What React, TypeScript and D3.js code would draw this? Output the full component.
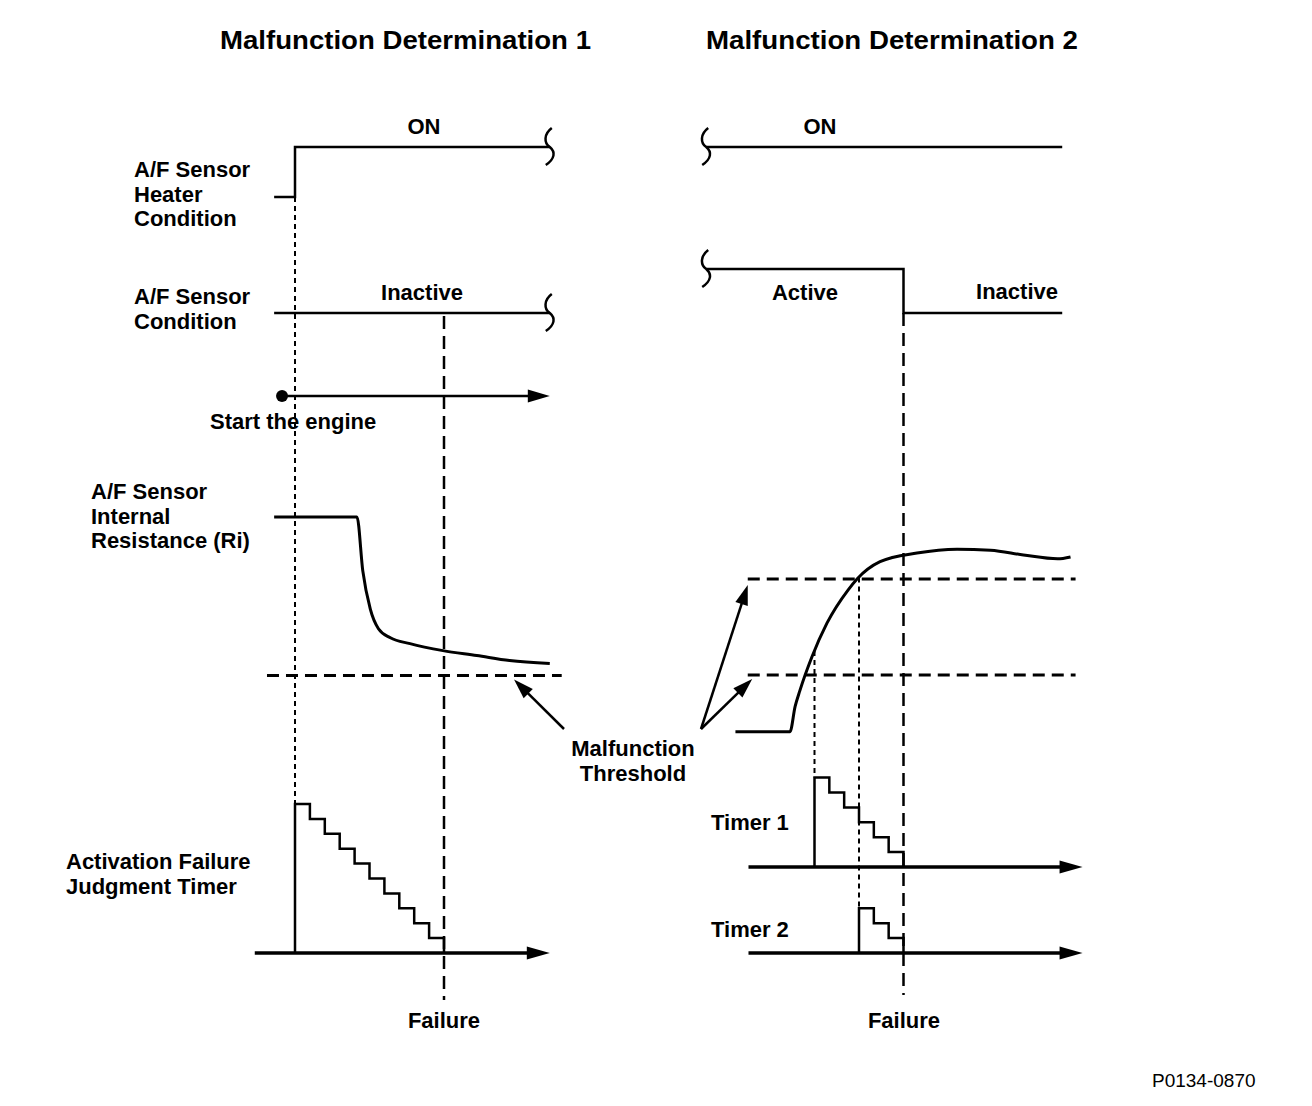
import * as d3 from "d3";

const W = 1312;
const H = 1106;
const FONT = "'Liberation Sans', Arial, Helvetica, sans-serif";

type Pt = [number, number];

const titles = ["Malfunction Determination 1", "Malfunction Determination 2"];

// time axis is counted in timer steps (one stair = one count)
// left panel: 0 = heater switched on, failure judged at count 10
const heaterLeft: Pt[] = [[-1.4, 0], [0, 0], [0, 1], [17.1, 1]];
const sensorLeft: Pt[] = [[-1.4, 0], [17.1, 0]];
const engineStart = -0.87;
const failureLeft = 10;
// A/F sensor internal resistance, arbitrary units (0 = malfunction threshold)
const riLeft: Pt[] = [
  [-1.4, 10], [4.16, 10], [4.55, 6.6], [5.05, 4.2], [5.6, 2.95], [6.4, 2.38],
  [7.72, 2.01], [9.93, 1.57], [12.2, 1.26], [14.4, 0.94], [17.1, 0.75],
];
const thresholdLeft = 0;
const timerLeft = [10, 9, 8, 7, 6, 5, 4, 3, 2, 1];

// right panel: 0 = timer 1 start, failure at count 6
const heaterRight: Pt[] = [[-7.3, 1], [16.7, 1]];
const sensorRight: Pt[] = [[-7.3, 1], [6, 1], [6, 0], [16.7, 0]];
const failureRight = 6;
const riRight: Pt[] = [
  [-5.33, 0.41], [-1.65, 0.41], [-1.31, 0.67], [-0.98, 0.84], [-0.17, 1.19],
  [0.84, 1.54], [2.26, 1.885], [2.87, 2.0], [4.42, 2.18], [6.91, 2.27],
  [9.61, 2.31], [11.87, 2.3], [14.09, 2.25], [16.39, 2.21], [17.26, 2.23],
];
const thresholdsRight = [1, 2];
const timer1 = [6, 5, 4, 3, 2, 1];
const timer1Start = 0;
const timer2 = [3, 2, 1];
const timer2Start = 3;

const xL = d3.scaleLinear().domain([0, 10]).range([295, 444]);
const xR = d3.scaleLinear().domain([0, 6]).range([814.5, 903.5]);
const yHeater = d3.scaleLinear().domain([0, 1]).range([197, 147]);
const ySensor = d3.scaleLinear().domain([0, 1]).range([313, 269]);
const yEngine = 396;
const yRiL = d3.scaleLinear().domain([0, 10]).range([675.5, 517]);
const yRiR = d3.scaleLinear().domain([1, 2]).range([675, 579]);
const stepH = 14.9;
const yTimer = (base: number) => d3.scaleLinear().domain([0, 1]).range([base, base - stepH]);
const yTL = yTimer(953);
const yT1 = yTimer(867);
const yT2 = yTimer(953);

// value of a sampled trace at time t (linear between samples)
const valueAt = (data: Pt[], t: number) =>
  d3.scaleLinear().domain(data.map((d) => d[0])).range(data.map((d) => d[1]))(t);

const stairs = (counts: number[], start: number): Pt[] => [
  [start, 0],
  ...counts.map((c, i) => [start + i, c] as Pt),
  [start + counts.length, 0],
];

const arrowHead = (x1: number, y1: number, x2: number, y2: number, len = 21, half = 6.5) => {
  const a = Math.atan2(y2 - y1, x2 - x1);
  const bx = x2 - len * Math.cos(a);
  const by = y2 - len * Math.sin(a);
  const nx = -Math.sin(a) * half;
  const ny = Math.cos(a) * half;
  return `M${x2},${y2}L${bx + nx},${by + ny}L${bx - nx},${by - ny}Z`;
};

const Arrow = ({ x1, y1, x2, y2, w = 2.5, len = 21, half = 6.5 }: any) => {
  const a = Math.atan2(y2 - y1, x2 - x1);
  const ex = x2 - (len - 2) * Math.cos(a);
  const ey = y2 - (len - 2) * Math.sin(a);
  return (
    <g>
      <line x1={x1} y1={y1} x2={ex} y2={ey} stroke="#000" strokeWidth={w} />
      <path d={arrowHead(x1, y1, x2, y2, len, half)} fill="#000" />
    </g>
  );
};

// break mark at the end of a truncated trace
const squiggle = (cx: number, cy: number) =>
  `M${cx + 2},${cy - 19}C${cx - 6},${cy - 13} ${cx - 6},${cy - 4} ${cx},${cy}` +
  `C${cx + 6},${cy + 5} ${cx + 5},${cy + 12} ${cx - 4},${cy + 18}`;

const Label = ({ x, y, lines, anchor = "start", size = 22, weight = "bold", gap = 24.5 }: any) => (
  <text x={x} y={y} textAnchor={anchor} fontFamily={FONT} fontSize={size} fontWeight={weight} fill="#000">
    {lines.map((l: string, i: number) => (
      <tspan key={i} x={x} dy={i === 0 ? 0 : gap}>{l}</tspan>
    ))}
  </text>
);

export default function App() {
  const lineL = (y: (v: number) => number) =>
    d3.line<Pt>().x((d) => xL(d[0])).y((d) => y(d[1]));
  const lineR = (y: (v: number) => number) =>
    d3.line<Pt>().x((d) => xR(d[0])).y((d) => y(d[1]));
  const smoothL = d3.line<Pt>().x((d) => xL(d[0])).y((d) => yRiL(d[1])).curve(d3.curveMonotoneX);
  const smoothR = d3.line<Pt>().x((d) => xR(d[0])).y((d) => yRiR(d[1])).curve(d3.curveMonotoneX);
  const stepL = d3.line<Pt>().x((d) => xL(d[0])).y((d) => yTL(d[1])).curve(d3.curveStepAfter);
  const step1 = d3.line<Pt>().x((d) => xR(d[0])).y((d) => yT1(d[1])).curve(d3.curveStepAfter);
  const step2 = d3.line<Pt>().x((d) => xR(d[0])).y((d) => yT2(d[1])).curve(d3.curveStepAfter);

  const solid = { fill: "none", stroke: "#000", strokeWidth: 2.5 };
  const dotted = { stroke: "#000", strokeWidth: 2, strokeDasharray: "5,4" };
  const dashed = { stroke: "#000", strokeWidth: 2.5, strokeDasharray: "13,7" };
  const thr = { stroke: "#000", strokeWidth: 3, strokeDasharray: "12,7" };

  const lEnd = heaterLeft[heaterLeft.length - 1][0];
  const rStart = heaterRight[0][0];

  return (
    <svg width={W} height={H} style={{ position: "absolute", left: 0, top: 0, background: "#fff" }}>
      <rect width={W} height={H} fill="#fff" />

      {/* titles */}
      <text x={405.5} y={49} textAnchor="middle" fontFamily={FONT} fontSize={25} fontWeight="bold"
        textLength={371} lengthAdjust="spacingAndGlyphs">{titles[0]}</text>
      <text x={892} y={49} textAnchor="middle" fontFamily={FONT} fontSize={25} fontWeight="bold"
        textLength={372} lengthAdjust="spacingAndGlyphs">{titles[1]}</text>

      {/* ---------- left panel ---------- */}
      <path d={lineL(yHeater)(heaterLeft)!} {...solid} />
      <path d={squiggle(xL(lEnd), yHeater(1))} {...solid} />
      <path d={lineL(ySensor)(sensorLeft)!} {...solid} />
      <path d={squiggle(xL(lEnd), ySensor(0))} {...solid} />

      <line x1={xL(0)} x2={xL(0)} y1={yHeater(0)} y2={yTL(timerLeft[0])} {...dotted} />
      <line x1={xL(failureLeft)} x2={xL(failureLeft)} y1={ySensor(0) + 3} y2={1000} {...dashed} />

      <circle cx={xL(engineStart)} cy={yEngine} r={6} fill="#000" />
      <Arrow x1={xL(engineStart)} y1={yEngine} x2={xL(17.1)} y2={yEngine} len={22} />

      <path d={smoothL(riLeft)!} fill="none" stroke="#000" strokeWidth={3} />
      <line x1={xL(-1.88)} x2={xL(17.9)} y1={yRiL(thresholdLeft)} y2={yRiL(thresholdLeft)} {...thr} />

      <Arrow x1={xL(-2.7)} y1={yTL(0)} x2={xL(17.1)} y2={yTL(0)} w={3.5} len={23} />
      <path d={stepL(stairs(timerLeft, 0))!} {...solid} />

      {/* ---------- right panel ---------- */}
      <path d={lineR(yHeater)(heaterRight)!} {...solid} />
      <path d={squiggle(xR(rStart), yHeater(1))} {...solid} />
      <path d={lineR(ySensor)(sensorRight)!} {...solid} />
      <path d={squiggle(xR(rStart), ySensor(1))} {...solid} />

      <line x1={xR(failureRight)} x2={xR(failureRight)} y1={ySensor(0)} y2={995} {...dashed} />

      {thresholdsRight.map((t) => (
        <line key={t} x1={xR(-4.5)} x2={xR(17.6)} y1={yRiR(t)} y2={yRiR(t)} {...thr} />
      ))}
      <path d={smoothR(riRight)!} fill="none" stroke="#000" strokeWidth={3} />

      <line x1={xR(timer1Start)} x2={xR(timer1Start)} y1={yRiR(valueAt(riRight, timer1Start))}
        y2={yT1(timer1[0])} {...dotted} />
      <line x1={xR(timer2Start)} x2={xR(timer2Start)} y1={yRiR(valueAt(riRight, timer2Start))}
        y2={yT2(timer2[0])} {...dotted} />

      <Arrow x1={xR(-4.45)} y1={yT1(0)} x2={xR(18.07)} y2={yT1(0)} w={3.5} len={23} />
      <path d={step1(stairs(timer1, timer1Start))!} {...solid} />
      <Arrow x1={xR(-4.45)} y1={yT2(0)} x2={xR(18.07)} y2={yT2(0)} w={3.5} len={23} />
      <path d={step2(stairs(timer2, timer2Start))!} {...solid} />

      {/* threshold pointers */}
      <Arrow x1={564} y1={729} x2={xL(14.7)} y2={yRiL(thresholdLeft) + 4} len={20} half={6.5} />
      <Arrow x1={701} y1={729} x2={xR(-4.5)} y2={yRiR(2) + 6} len={20} half={6.5} />
      <Arrow x1={701} y1={729} x2={xR(-4.2)} y2={yRiR(1) + 4} len={20} half={6.5} />

      {/* labels */}
      <Label x={424} y={134} anchor="middle" lines={["ON"]} />
      <Label x={134} y={177} lines={["A/F Sensor", "Heater", "Condition"]} />
      <Label x={134} y={304} lines={["A/F Sensor", "Condition"]} />
      <Label x={422} y={300} anchor="middle" lines={["Inactive"]} />
      <Label x={210} y={429} lines={["Start the engine"]} />
      <Label x={91} y={499} lines={["A/F Sensor", "Internal", "Resistance (Ri)"]} />
      <Label x={633} y={756} anchor="middle" lines={["Malfunction", "Threshold"]} />
      <Label x={66} y={869} lines={["Activation Failure", "Judgment Timer"]} />
      <Label x={444} y={1028} anchor="middle" lines={["Failure"]} />

      <Label x={820} y={134} anchor="middle" lines={["ON"]} />
      <Label x={805} y={300} anchor="middle" lines={["Active"]} />
      <Label x={1017} y={299} anchor="middle" lines={["Inactive"]} />
      <Label x={711} y={830} lines={["Timer 1"]} />
      <Label x={711} y={937} lines={["Timer 2"]} />
      <Label x={904} y={1028} anchor="middle" lines={["Failure"]} />

      <Label x={1152} y={1087} lines={["P0134-0870"]} size={19} weight="normal" />
    </svg>
  );
}
